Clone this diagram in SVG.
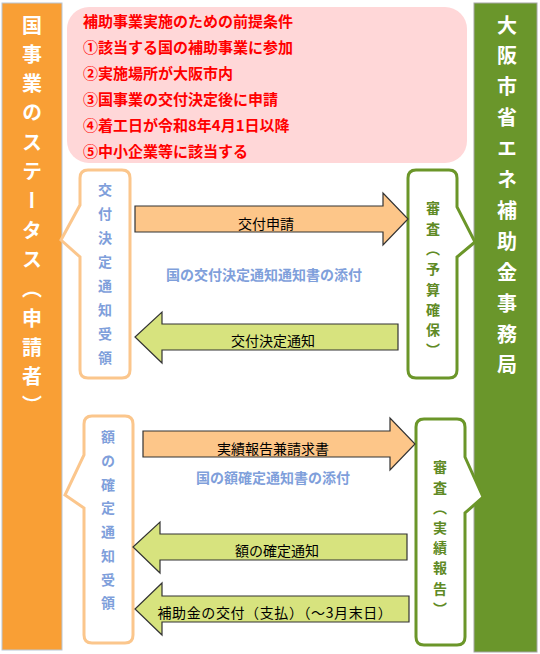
<svg xmlns="http://www.w3.org/2000/svg" width="540" height="654" viewBox="0 0 540 654">
<style>
text{font-family:"Noto Sans CJK JP","Noto Sans",sans-serif;}
.vt{writing-mode:vertical-rl;font-weight:bold;}
.bar{font-size:20px;fill:#ffffff;letter-spacing:9.3px;}
.cond{font-size:15px;font-weight:bold;fill:#ff0000;}
.lbl{font-size:14px;fill:#000000;text-anchor:middle;}
.note{font-size:14px;font-weight:bold;fill:#7f9fdb;text-anchor:middle;}
.cl{fill:#ffffff;stroke:#fbc68c;stroke-width:3;}
.cr{fill:#ffffff;stroke:#6b9629;stroke-width:3;}
.ao{fill:#fdc689;stroke:#333333;stroke-width:1.2;}
.ag{fill:#d7e37e;stroke:#333333;stroke-width:1.2;}
.bt{font-size:14px;fill:#7f9fdb;letter-spacing:9.9px;}
.gt{font-size:14px;fill:#5f8a25;letter-spacing:6.3px;}
</style>
<rect width="540" height="654" fill="#ffffff"/>
<g id="applicant">
<rect x="2" y="3" width="60" height="647" fill="#f99f35" stroke="#b8c6d6" stroke-width="1"/>
<text class="vt bar" x="32" y="15">国事業のステータス（申請者）</text>
</g>
<g id="office">
<rect x="474" y="3" width="63" height="649" fill="#6a962b" stroke="#a5a5a5" stroke-width="1"/>
<text class="vt bar" x="507" y="15" style="letter-spacing:10.9px">大阪市省エネ補助金事務局</text>
</g>
<g id="conditions">
<rect x="67" y="7" width="400" height="156" rx="22" fill="#ffd7d8"/>
<text class="cond" x="83" y="26.5">補助事業実施のための前提条件</text>
<text class="cond" x="83" y="52.5">①該当する国の補助事業に参加</text>
<text class="cond" x="83" y="78.5">②実施場所が大阪市内</text>
<text class="cond" x="83" y="105">③国事業の交付決定後に申請</text>
<text class="cond" x="83" y="130.5">④着工日が令和8年4月1日以降</text>
<text class="cond" x="83" y="156.5">⑤中小企業等に該当する</text>
</g>
<g id="receive1">
<path class="cl" d="M88,170 H122 Q130,170 130,178 V370 Q130,378 122,378 H88 Q80,378 80,370 V257 L61,240 L80,205 V178 Q80,170 88,170 Z"/>
<text class="vt bt" x="105" y="183">交付決定通知受領</text>
</g>
<g id="review1">
<path class="cr" d="M416,170 H449 Q457,170 457,178 V207 L475,242 L457,257 V370 Q457,378 449,378 H416 Q408,378 408,370 V178 Q408,170 416,170 Z"/>
<text class="vt gt" x="433" y="201">審査（予算確保）</text>
</g>
<g id="receive2">
<path class="cl" d="M92,416 H125 Q133,416 133,424 V635 Q133,643 125,643 H92 Q84,643 84,635 V508 L65,495 L84,455 V424 Q84,416 92,416 Z"/>
<text class="vt bt" x="108" y="430" style="letter-spacing:9.7px">額の確定通知受領</text>
</g>
<g id="review2">
<path class="cr" d="M424,419 H457 Q465,419 465,427 V457 L483,497 L465,513 V637 Q465,645 457,645 H424 Q416,645 416,637 V427 Q416,419 424,419 Z"/>
<text class="vt gt" x="440" y="460" style="letter-spacing:6.2px">審査（実績報告）</text>
</g>
<g id="connectors">
<path class="ao" d="M135,206 H383 V193 L408,219 L383,245 V232 H135 Z"/>
<text class="lbl" x="266" y="229">交付申請</text>
<text class="note" x="264" y="280">国の交付決定通知通知書の添付</text>
<path class="ag" d="M398,324 H162 V312 L135,337 L162,363 V350 H398 Z"/>
<text class="lbl" x="273" y="346">交付決定通知</text>
<path class="ao" d="M143,431 H390 V418 L415,444 L390,470 V457 H143 Z"/>
<text class="lbl" x="273" y="454">実績報告兼請求書</text>
<text class="note" x="273" y="483">国の額確定通知書の添付</text>
<path class="ag" d="M407,534 H160 V522 L133,547 L160,573 V560 H407 Z"/>
<text class="lbl" x="277" y="556">額の確定通知</text>
<path class="ag" d="M409,596 H162 V583 L135,609 L162,635 V622 H409 Z"/>
<text class="lbl" x="275" y="618" style="letter-spacing:0.6px">補助金の交付（支払）（～3月末日）</text>
</g>
</svg>
